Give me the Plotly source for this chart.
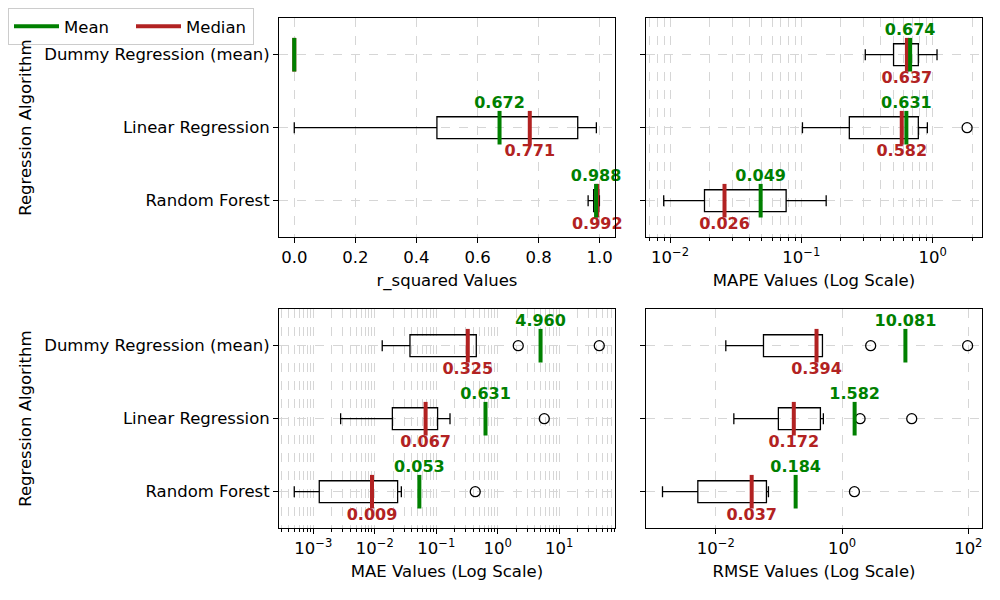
import plotly.graph_objects as go

ALGORITHMS = ["Dummy Regression (mean)", "Linear Regression", "Random Forest"]

# r_squared (linear axis)
r2_low = [0.0, 0.0, 0.962]
r2_q1 = [0.0, 0.467, 0.980]
r2_median = [0.0, 0.771, 0.992]
r2_q3 = [0.0, 0.928, 0.997]
r2_high = [0.0, 0.989, 0.999]
r2_mean = [0.0, 0.672, 0.988]
r2_out_x = []
r2_out_y = []

# MAPE (log axis)
mape_low = [0.307, 0.102, 0.00895]
mape_q1 = [0.504, 0.232, 0.0183]
mape_median = [0.637, 0.582, 0.026]
mape_q3 = [0.778, 0.778, 0.0766]
mape_high = [1.08, 0.912, 0.1546]
mape_mean = [0.674, 0.631, 0.049]
mape_out_x = [1.83]
mape_out_y = ["Linear Regression"]

# MAE (log axis)
mae_low = [0.0132, 0.00278, 0.00049]
mae_q1 = [0.0373, 0.0193, 0.00125]
mae_median = [0.325, 0.067, 0.009]
mae_q3 = [0.447, 0.105, 0.0235]
mae_high = [0.447, 0.167, 0.0270]
mae_mean = [4.960, 0.631, 0.053]
mae_out_x = [2.15, 44.7, 5.70, 0.43]
mae_out_y = ["Dummy Regression (mean)", "Dummy Regression (mean)",
             "Linear Regression", "Random Forest"]

# RMSE (log axis)
rmse_low = [0.0144, 0.0193, 0.00143]
rmse_q1 = [0.0569, 0.098, 0.00519]
rmse_median = [0.394, 0.172, 0.037]
rmse_q3 = [0.489, 0.454, 0.0634]
rmse_high = [0.489, 0.506, 0.0682]
rmse_mean = [10.081, 1.582, 0.184]
rmse_out_x = [2.84, 97.5, 1.93, 12.7, 1.57]
rmse_out_y = ["Dummy Regression (mean)", "Dummy Regression (mean)",
              "Linear Regression", "Linear Regression", "Random Forest"]

# tick labels
r2_ticks = [0.0, 0.2, 0.4, 0.6, 0.8, 1.0]
r2_ticktext = ["0.0", "0.2", "0.4", "0.6", "0.8", "1.0"]
mape_ticks = [0.01, 0.1, 1]
mape_ticktext = ["10<sup>−2</sup>", "10<sup>−1</sup>", "10<sup>0</sup>"]
mae_ticks = [0.001, 0.01, 0.1, 1, 10]
mae_ticktext = ["10<sup>−3</sup>", "10<sup>−2</sup>", "10<sup>−1</sup>",
                "10<sup>0</sup>", "10<sup>1</sup>"]
rmse_ticks = [0.01, 1, 100]
rmse_ticktext = ["10<sup>−2</sup>", "10<sup>0</sup>", "10<sup>2</sup>"]

GREEN = "#008000"
RED = "#b22222"
GRID = "#d6d6d6"
FONT = "DejaVu Sans"
SIZE = 16.5


def fmt(values):
    # the dummy r_squared row carries no labels
    return [None if v == 0 else f"{v:.3f}" for v in values]


panels = [
    dict(low=r2_low, q1=r2_q1, med=r2_median, q3=r2_q3, high=r2_high,
         mean=r2_mean, ox=r2_out_x, oy=r2_out_y, xa="x", ya="y"),
    dict(low=mape_low, q1=mape_q1, med=mape_median, q3=mape_q3, high=mape_high,
         mean=mape_mean, ox=mape_out_x, oy=mape_out_y, xa="x2", ya="y2"),
    dict(low=mae_low, q1=mae_q1, med=mae_median, q3=mae_q3, high=mae_high,
         mean=mae_mean, ox=mae_out_x, oy=mae_out_y, xa="x3", ya="y3"),
    dict(low=rmse_low, q1=rmse_q1, med=rmse_median, q3=rmse_q3, high=rmse_high,
         mean=rmse_mean, ox=rmse_out_x, oy=rmse_out_y, xa="x4", ya="y4"),
]

fig = go.Figure()

for p in panels:
    fig.add_trace(go.Box(
        y=ALGORITHMS, q1=p["q1"], median=p["med"], q3=p["q3"],
        lowerfence=p["low"], upperfence=p["high"],
        orientation="h", width=0.3, whiskerwidth=0.5,
        fillcolor="rgba(0,0,0,0)", line=dict(color="black", width=1.3),
        boxpoints=False, showlegend=False, hoverinfo="skip",
        xaxis=p["xa"], yaxis=p["ya"],
    ))
    if p["ox"]:
        fig.add_trace(go.Scatter(
            x=p["ox"], y=p["oy"], mode="markers",
            marker=dict(symbol="circle-open", size=10, color="black",
                        line=dict(width=1.3, color="black")),
            showlegend=False, xaxis=p["xa"], yaxis=p["ya"],
        ))
    fig.add_trace(go.Scatter(
        x=p["med"], y=ALGORITHMS, mode="markers+text", cliponaxis=False,
        marker=dict(symbol="line-ns", size=24, line=dict(width=4, color=RED)),
        text=fmt(p["med"]), textposition="bottom center",
        textfont=dict(family=FONT, size=16, color=RED, weight="bold"),
        showlegend=False, xaxis=p["xa"], yaxis=p["ya"],
    ))
    fig.add_trace(go.Scatter(
        x=p["mean"], y=ALGORITHMS, mode="markers+text", cliponaxis=False,
        marker=dict(symbol="line-ns", size=24, line=dict(width=4, color=GREEN)),
        text=fmt(p["mean"]), textposition="top center",
        textfont=dict(family=FONT, size=16, color=GREEN, weight="bold"),
        showlegend=False, xaxis=p["xa"], yaxis=p["ya"],
    ))

# legend entries
fig.add_trace(go.Scatter(x=[None], y=[None], mode="lines", name="Mean",
                         line=dict(color=GREEN, width=4)))
fig.add_trace(go.Scatter(x=[None], y=[None], mode="lines", name="Median",
                         line=dict(color=RED, width=4)))


def xaxis(domain, anchor, title, rng, ticks, ticktext, log=False, minor=False):
    ax = dict(
        domain=domain, anchor=anchor, range=rng, automargin=False,
        type="log" if log else "linear",
        tickmode="array", tickvals=ticks, ticktext=ticktext,
        title=dict(text=title, font=dict(size=SIZE), standoff=8),
        showline=True, mirror=True, linecolor="black", linewidth=1,
        ticks="outside", ticklen=5, tickcolor="black",
        tickfont=dict(size=SIZE),
        showgrid=True, gridcolor=GRID, griddash="dash", gridwidth=1,
        zeroline=False,
    )
    if minor:
        ax["minor"] = dict(dtick="D1", ticks="outside", ticklen=3,
                           tickcolor="black", showgrid=True,
                           gridcolor=GRID, griddash="dash", gridwidth=1)
    return ax


def yaxis(domain, anchor, labels):
    ax = dict(
        domain=domain, anchor=anchor, type="category", automargin=False,
        categoryorder="array", categoryarray=ALGORITHMS[::-1],
        range=[-0.5, 2.5],
        showticklabels=labels,
        showline=True, mirror=True, linecolor="black", linewidth=1,
        ticks="outside", ticklen=5, tickcolor="black",
        tickfont=dict(size=SIZE),
        showgrid=True, gridcolor=GRID, griddash="dash", gridwidth=1,
        zeroline=False,
    )
    if labels:
        ax["title"] = dict(text="Regression Algorithm", font=dict(size=SIZE),
                           standoff=8)
    return ax


# the page puts the figure 8px in from its top-left corner
left, right = [0.271, 0.607], [0.638, 0.974]
top, bottom = [0.618, 0.983], [0.133, 0.498]

fig.update_layout(
    width=1000, height=600,
    margin=dict(l=0, r=0, t=0, b=0),
    paper_bgcolor="white", plot_bgcolor="white",
    font=dict(family=FONT, color="black", size=SIZE),
    xaxis=xaxis(left, "y", "r_squared Values", [-0.05, 1.05], r2_ticks, r2_ticktext),
    xaxis2=xaxis(right, "y2", "MAPE Values (Log Scale)", [-2.183, 0.376],
                 mape_ticks, mape_ticktext, log=True, minor=True),
    xaxis3=xaxis(left, "y3", "MAE Values (Log Scale)", [-3.558, 1.906],
                 mae_ticks, mae_ticktext, log=True, minor=True),
    xaxis4=xaxis(right, "y4", "RMSE Values (Log Scale)", [-3.106, 2.217],
                 rmse_ticks, rmse_ticktext, log=True),
    yaxis=yaxis(top, "x", True),
    yaxis2=yaxis(top, "x2", False),
    yaxis3=yaxis(bottom, "x3", True),
    yaxis4=yaxis(bottom, "x4", False),
    legend=dict(orientation="h", x=0.0, y=1.0, xanchor="left", yanchor="top",
                bgcolor="white", bordercolor="#cccccc", borderwidth=1,
                font=dict(size=SIZE), entrywidth=62, itemwidth=45),
)

fig.write_html("out.html")
